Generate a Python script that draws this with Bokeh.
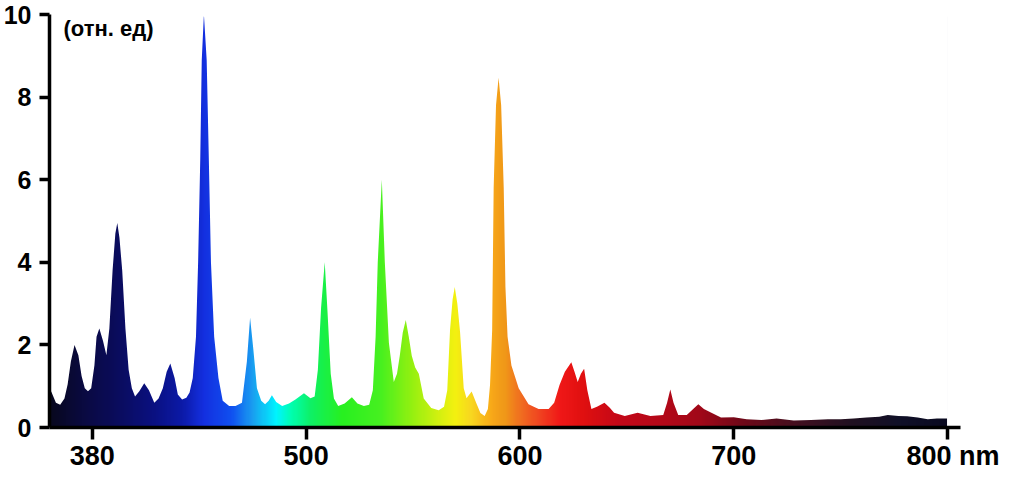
import numpy as np
from bokeh.plotting import figure
from bokeh.models import Range1d, FixedTicker, Label
from bokeh.embed import file_html
from bokeh.resources import INLINE

# ---- data ----
wavelength = [380, 381, 383, 385, 387, 388.5, 390, 391.7, 393.5, 395, 396.5, 398, 399.5, 401, 402,
              403.3, 405, 406.6, 408, 409.5, 410.8, 411.7, 412.7, 414, 415.5, 417, 418.5, 420, 422,
              424.3, 426.5, 429, 431, 433, 434.8, 436.5, 438.5, 440, 442, 444, 445.5, 447, 448.5,
              449.5, 450.5, 451.2, 452.2, 453.5, 454.5, 455.5, 457, 459, 461, 464, 467, 470, 472.3,
              473.8, 475.3, 477, 479, 480.8, 482.5, 484, 486, 488.8, 492, 495, 499, 502, 504, 505.5,
              507, 508.7, 510, 511.5, 513, 515, 518, 521.4, 524, 527, 529.5, 531.2, 532.5, 533.5,
              535.4, 536.8, 538.7, 541, 542.5, 543.8, 545.2, 546.6, 548, 549.4, 551, 552.7, 555,
              558.5, 562, 564.5, 566, 567.3, 568.5, 569.5, 570.7, 572, 573.7, 575, 577.4, 579.5,
              581.5, 583.5, 585, 586, 587, 587.7, 588.8, 590, 591.2, 592.4, 593.2, 594.2, 596,
              599.4, 604, 608.7, 613.4, 616, 618.5, 621, 624, 625.5, 627, 628.5, 630, 631.5, 633.4,
              636, 639.5, 642, 644, 649, 655, 661, 667, 668.8, 670.3, 671.8, 674, 678, 681, 683.4,
              686, 689.5, 694, 700, 706, 713, 720, 728, 736, 744, 750, 756, 762, 768, 772, 777,
              781, 786, 790.7, 795, 800]
intensity = [0.95, 0.85, 0.6, 0.55, 0.7, 1.05, 1.6, 2.0, 1.75, 1.25, 0.95, 0.88, 0.95, 1.5, 2.2,
             2.4, 2.1, 1.75, 2.4, 3.8, 4.7, 4.95, 4.6, 3.8, 2.4, 1.4, 0.95, 0.75, 0.88,
             1.07, 0.9, 0.6, 0.7, 0.95, 1.35, 1.55, 1.2, 0.8, 0.68, 0.72, 0.85, 1.2, 2.2,
             4.0, 6.5, 8.9, 10.0, 8.9, 6.5, 4.0, 2.2, 1.2, 0.65, 0.52, 0.52, 0.6, 1.6,
             2.66, 1.9, 0.95, 0.65, 0.56, 0.65, 0.78, 0.62, 0.52, 0.58, 0.68, 0.83, 0.71, 0.75, 1.4,
             2.9, 4.0, 2.8, 1.3, 0.7, 0.52, 0.58, 0.73, 0.58, 0.52, 0.55, 0.9, 2.2, 4.0,
             6.0, 4.0, 2.05, 1.1, 1.3, 1.74, 2.3, 2.6, 2.2, 1.74, 1.45, 1.3, 0.7,
             0.47, 0.42, 0.5, 0.9, 2.36, 3.1, 3.4, 3.0, 2.3, 0.95, 0.71, 0.87, 0.6,
             0.35, 0.28, 0.45, 1.03, 2.36, 5.8, 7.8, 8.47, 7.8, 5.8, 3.4, 2.2, 1.5,
             0.95, 0.56, 0.45, 0.45, 0.6, 1.03, 1.35, 1.58, 1.35, 1.1, 1.3, 1.42, 0.9, 0.45,
             0.5, 0.6, 0.48, 0.36, 0.28, 0.36, 0.28, 0.3, 0.6, 0.92, 0.6, 0.3, 0.3, 0.45, 0.56,
             0.45, 0.36, 0.24, 0.25, 0.2, 0.18, 0.22, 0.17, 0.18, 0.2, 0.2, 0.22, 0.24, 0.26, 0.3, 0.28,
             0.27, 0.24, 0.2, 0.22, 0.22]

x_ticks = [400, 500, 600, 700, 800]
x_tick_labels = ["380", "500", "600", "700", "\u2007800 nm"]
y_ticks = [0, 2, 4, 6, 8, 10]
y_unit = "(отн. ед)"

# spectral colour stops (styling)
stop_wl = [380, 395, 410, 428, 442, 452, 465, 475, 486, 493, 503, 517, 535, 550, 563, 570,
           577, 587, 593, 600, 610, 619, 630, 647, 671, 685, 704, 732, 755, 778, 800]
stop_col = ["#08081e", "#0a0a40", "#0a0c5a", "#0a1080", "#0c1aa8", "#1430e0", "#1050f0",
            "#1aa0f0", "#00f4ff", "#00ffb0", "#10f060", "#28f020", "#48f020", "#98f010",
            "#d8f010", "#f4f010", "#f8d820", "#f8a818", "#f09818", "#f07020", "#f04020",
            "#f01818", "#e01010", "#c40818", "#b00818", "#a00818", "#700818", "#401020",
            "#201020", "#101028", "#0a0a20"]

FONT = "Liberation Sans"

x0, x1 = wavelength[0], wavelength[-1]
p = figure(width=999, height=473, x_range=Range1d(380, 806), y_range=Range1d(0, 10),
           output_backend="svg", toolbar_location=None,
           min_border_left=40, min_border_right=39, min_border_top=14, min_border_bottom=36)
p.outline_line_color = None
p.xgrid.visible = False
p.ygrid.visible = False
p.background_fill_color = "white"
p.border_fill_color = "white"

# gradient colour band as an RGBA image (kept just inside the white mask's extent)
cols = np.linspace(x0, x1, 841)
sw = np.array(stop_wl, dtype=float)
rgb = np.array([[int(c[i:i + 2], 16) for i in (1, 3, 5)] for c in stop_col], dtype=float)
r = np.interp(cols, sw, rgb[:, 0]).astype(np.uint32)
g = np.interp(cols, sw, rgb[:, 1]).astype(np.uint32)
b = np.interp(cols, sw, rgb[:, 2]).astype(np.uint32)
row = (255 << 24) | (b << 16) | (g << 8) | r
img = np.vstack([row, row]).astype(np.uint32)
p.image_rgba(image=[img], x=x0, y=0, dw=(x1 - x0) - 0.3, dh=9.95)

# white mask above the spectrum
p.varea(x=wavelength, y1=intensity, y2=[10] * len(wavelength), fill_color="white")

# axes
for ax in (p.xaxis[0], p.yaxis[0]):
    ax.axis_line_width = 3.5
    ax.axis_line_color = "black"
    ax.major_tick_line_width = 3.5
    ax.major_tick_line_color = "black"
    ax.major_tick_in = 0
    ax.minor_tick_line_color = None
    ax.major_label_text_font = FONT
    ax.major_label_text_font_style = "bold"
    ax.major_label_text_color = "black"
p.xaxis.major_label_text_font_size = "27px"
p.yaxis.major_label_text_font_size = "25px"
p.xaxis.major_tick_out = 12
p.yaxis.major_tick_out = 10
p.xaxis.major_label_standoff = 1
p.yaxis.major_label_standoff = 8
p.xaxis.ticker = FixedTicker(ticks=x_ticks)
p.yaxis.ticker = FixedTicker(ticks=y_ticks)
p.xaxis.major_label_overrides = {v: t for v, t in zip(x_ticks, x_tick_labels)}

p.add_layout(Label(x=380, y=10, text=y_unit, x_offset=14, y_offset=-1, text_align="left",
                   text_baseline="top", text_font=FONT, text_font_style="bold",
                   text_font_size="22px", text_color="black"))

open("out.html", "w").write(file_html(p, INLINE))
